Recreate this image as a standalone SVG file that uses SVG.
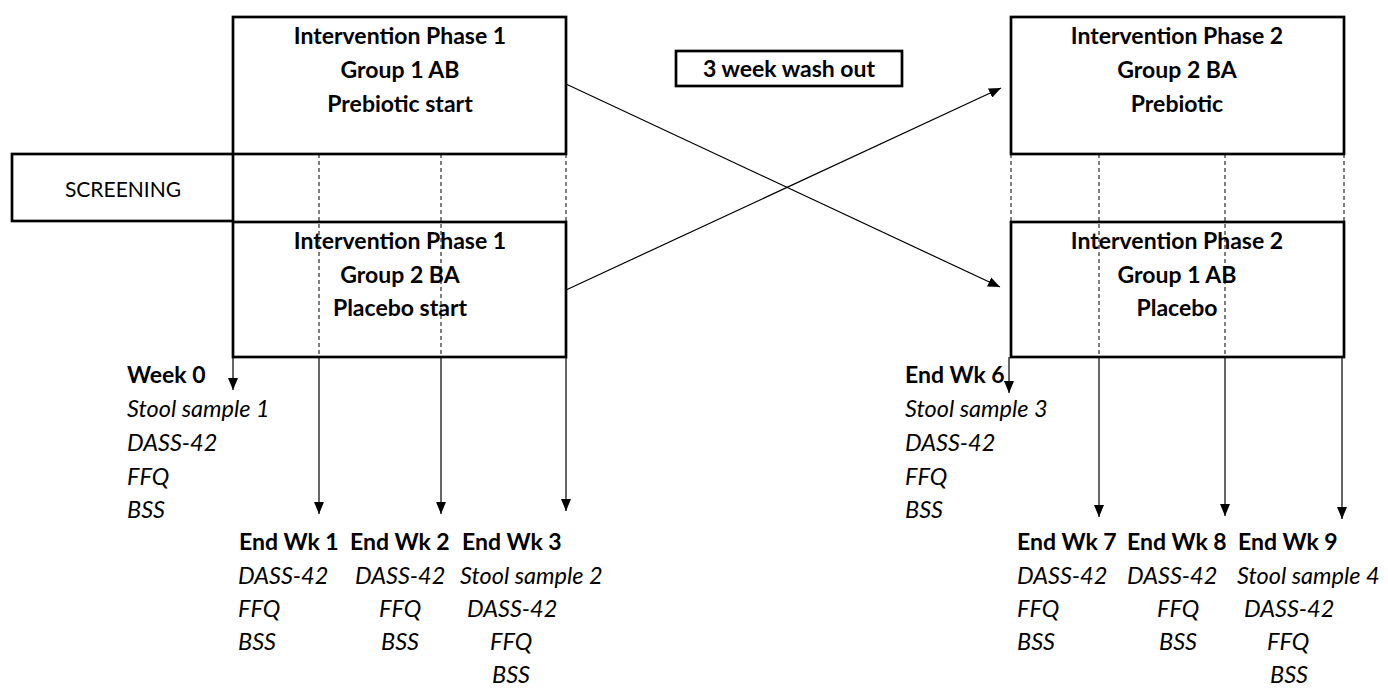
<svg xmlns="http://www.w3.org/2000/svg" width="1388" height="689" viewBox="0 0 1388 689">
<style>
.box{fill:#fff;stroke:#000;stroke-width:2.7}
.t{font-family:Lato,"Open Sans",sans-serif;font-size:23px;fill:#000}
.r{font-size:21px}
.b{font-weight:bold}
.i{font-style:italic;font-size:23.5px}
.c{text-anchor:middle}
.dash{stroke:#000;stroke-width:1;stroke-dasharray:4,3;fill:none}
.ln{stroke:#000;stroke-width:1.2;fill:none}
</style>
<defs>
<marker id="ah" viewBox="0 0 12 10" refX="12" refY="5" markerWidth="12" markerHeight="10" markerUnits="userSpaceOnUse" orient="auto">
<path d="M0,0 L12,5 L0,10 Z" fill="#000"/>
</marker>
</defs>
<g id="screening"><rect class="box" x="12" y="154" width="221" height="67"/><text class="t r c" x="123" y="197">SCREENING</text></g>
<g id="p1g1"><rect class="box" x="233" y="17" width="333" height="137"/>
<text class="t b c" x="400" y="44">Intervention Phase 1</text>
<text class="t b c" x="400" y="78">Group 1 AB</text>
<text class="t b c" x="400" y="112">Prebiotic start</text></g>
<g id="p1g2"><rect class="box" x="233" y="222" width="333" height="135"/>
<text class="t b c" x="400" y="249">Intervention Phase 1</text>
<text class="t b c" x="400" y="283">Group 2 BA</text>
<text class="t b c" x="400" y="316">Placebo start</text></g>
<g id="washout"><rect class="box" x="676" y="51" width="226" height="35"/>
<text class="t b c" x="789" y="77">3 week wash out</text></g>
<g id="p2g2"><rect class="box" x="1011" y="17" width="333" height="137"/>
<text class="t b c" x="1177" y="44">Intervention Phase 2</text>
<text class="t b c" x="1177" y="78">Group 2 BA</text>
<text class="t b c" x="1177" y="112">Prebiotic</text></g>
<g id="p2g1"><rect class="box" x="1011" y="222" width="333" height="135"/>
<text class="t b c" x="1177" y="249">Intervention Phase 2</text>
<text class="t b c" x="1177" y="283">Group 1 AB</text>
<text class="t b c" x="1177" y="316">Placebo</text></g>
<g id="connectors">
<path class="dash" d="M319,154V357M441,154V357M566,154V222M1011,154V222M1099,154V357M1225,154V357M1344,154V222"/>
<path class="ln" marker-end="url(#ah)" d="M566,84L1000,287"/>
<path class="ln" marker-end="url(#ah)" d="M566,290L1001,88"/>
<path class="ln" marker-end="url(#ah)" d="M233,357V390"/>
<path class="ln" marker-end="url(#ah)" d="M319,357V514"/>
<path class="ln" marker-end="url(#ah)" d="M441,357V514"/>
<path class="ln" marker-end="url(#ah)" d="M566,357V511"/>
<path class="ln" marker-end="url(#ah)" d="M1009,357V393"/>
<path class="ln" marker-end="url(#ah)" d="M1099,357V517"/>
<path class="ln" marker-end="url(#ah)" d="M1225,357V516"/>
<path class="ln" marker-end="url(#ah)" d="M1342,357V519"/>
</g>
<g id="week0">
<text class="t b" x="127" y="383">Week 0</text>
<text class="t i" x="127" y="417">Stool sample 1</text>
<text class="t i" x="127" y="451">DASS-42</text>
<text class="t i" x="127" y="485">FFQ</text>
<text class="t i" x="127" y="518">BSS</text>
</g>
<g id="wk1">
<text class="t b" x="239" y="550">End Wk 1</text>
<text class="t i" x="238" y="584">DASS-42</text>
<text class="t i" x="238" y="617">FFQ</text>
<text class="t i" x="238" y="650">BSS</text>
</g>
<g id="wk2">
<text class="t b" x="350" y="550">End Wk 2</text>
<text class="t i" x="355" y="584">DASS-42</text>
<text class="t i" x="379" y="617">FFQ</text>
<text class="t i" x="381" y="650">BSS</text>
</g>
<g id="wk3">
<text class="t b" x="462" y="550">End Wk 3</text>
<text class="t i" x="460" y="584">Stool sample 2</text>
<text class="t i" x="467" y="617">DASS-42</text>
<text class="t i" x="490" y="650">FFQ</text>
<text class="t i" x="492" y="683">BSS</text>
</g>
<g id="wk6">
<text class="t b" x="905" y="383">End Wk 6</text>
<text class="t i" x="905" y="417">Stool sample 3</text>
<text class="t i" x="905" y="451">DASS-42</text>
<text class="t i" x="905" y="485">FFQ</text>
<text class="t i" x="905" y="518">BSS</text>
</g>
<g id="wk7">
<text class="t b" x="1017" y="550">End Wk 7</text>
<text class="t i" x="1017" y="584">DASS-42</text>
<text class="t i" x="1017" y="617">FFQ</text>
<text class="t i" x="1017" y="650">BSS</text>
</g>
<g id="wk8">
<text class="t b" x="1127" y="550">End Wk 8</text>
<text class="t i" x="1127" y="584">DASS-42</text>
<text class="t i" x="1157" y="617">FFQ</text>
<text class="t i" x="1159" y="650">BSS</text>
</g>
<g id="wk9">
<text class="t b" x="1238" y="550">End Wk 9</text>
<text class="t i" x="1237" y="584">Stool sample 4</text>
<text class="t i" x="1244" y="617">DASS-42</text>
<text class="t i" x="1267" y="650">FFQ</text>
<text class="t i" x="1270" y="683">BSS</text>
</g>
</svg>
